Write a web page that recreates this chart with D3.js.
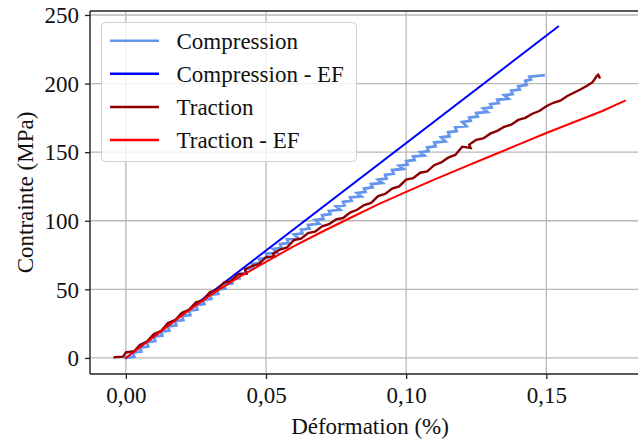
<!DOCTYPE html>
<html><head><meta charset="utf-8">
<script src="https://cdn.jsdelivr.net/npm/d3@7"></script>
<style>html,body{margin:0;padding:0;background:#fff;overflow:hidden}</style>
</head><body>
<svg id="chart" width="638" height="439"></svg>
<script>
const xTicks = [0, 0.05, 0.10, 0.15];
const yTicks = [0, 50, 100, 150, 200, 250];
const seriesNames = ["Compression", "Compression - EF", "Traction", "Traction - EF"];
const seriesColors = ["#6495ED", "#0000FF", "#8B0000", "#FF0000"];

// Compression (experimental)
const compression = [
 [0,0],[0.003,0.8],[0.0025,3.8],[0.0055,4.6],[0.005,7.5],[0.008,8.3],[0.0075,11.5],[0.0105,12.3],
 [0.01,15.5],[0.013,16.3],[0.0125,19.2],[0.0155,20],[0.015,23],[0.018,23.8],[0.0175,26.8],[0.0205,27.6],
 [0.02,30.5],[0.023,31.3],[0.0225,34.5],[0.0255,35.3],[0.025,38.5],[0.028,39.3],[0.0275,42.2],[0.0305,43],
 [0.03,46],[0.033,46.8],[0.0325,49.8],[0.0355,50.6],[0.035,53.5],[0.038,54.3],[0.0375,57.2],[0.0405,58],
 [0.04,61],[0.043,61.8],[0.0425,64.8],[0.0455,65.6],[0.045,68.5],[0.048,69.3],[0.0475,72.2],[0.0505,73],
 [0.05,76],[0.054,76.8],[0.0525,79.5],[0.0555,80.3],[0.055,83],[0.058,83.8],[0.0575,86.5],[0.0615,87.3],
 [0.06,90],[0.063,90.8],[0.0625,93.5],[0.0655,94.3],[0.065,97],[0.069,97.8],[0.0675,100.5],[0.0705,101.3],
 [0.07,104],[0.073,104.8],[0.0725,107.2],[0.0765,108],[0.075,110.5],[0.078,111.3],[0.0775,113.8],[0.0805,114.6],
 [0.08,117],[0.084,117.8],[0.0825,120.2],[0.0855,121],[0.085,123.5],[0.088,124.3],[0.0875,126.8],[0.0915,127.6],
 [0.09,130],[0.093,130.8],[0.0925,133.5],[0.0955,134.3],[0.095,137],[0.099,137.8],[0.0975,140.2],[0.1005,141],
 [0.1,143.5],[0.103,144.3],[0.1025,146.8],[0.1065,147.6],[0.105,150],[0.108,150.8],[0.1075,153.5],[0.1105,154.3],
 [0.11,157],[0.114,157.8],[0.1125,160.8],[0.1155,161.6],[0.115,164.5],[0.118,165.3],[0.1175,168.2],[0.1215,169],
 [0.12,172],[0.123,172.8],[0.1225,175.2],[0.1255,176],[0.125,178.5],[0.129,179.3],[0.1275,181.8],[0.1305,182.6],
 [0.13,185],[0.133,185.8],[0.1325,188.2],[0.1365,189],[0.135,191.5],[0.138,192.3],[0.1375,194.8],[0.1405,195.6],
 [0.14,198],[0.143,199],[0.1425,202],[0.1445,203],[0.144,205],[0.147,205.6],[0.149,206]
];
// Compression - EF
const compressionEF = [[0,0],[0.1542,241.5]];
// Traction (experimental)
const traction = [
 [-0.004,0.5],[-0.001,1],[0.000,4],[0.003,5],[0.005,9.5],[0.0075,12],[0.010,17.5],[0.0125,19.5],
 [0.015,25.5],[0.0175,27.5],[0.020,33],[0.0225,35],[0.025,40.5],[0.0275,42],[0.030,48],[0.0325,49.5],
 [0.035,55],[0.0375,56],[0.040,61],[0.043,61.5],[0.0425,64.5],[0.045,67],[0.0475,68.5],[0.050,73.5],
 [0.053,74],[0.0525,76],[0.055,79],[0.0575,80.5],[0.060,86],[0.0625,87],[0.065,91],[0.0675,92],
 [0.070,96],[0.0725,97.5],[0.075,101],[0.0775,102],[0.080,106],[0.0825,108],[0.085,111.5],
 [0.0875,113],[0.090,118],[0.0925,119.5],[0.095,123.5],[0.0975,125],[0.100,130],[0.1025,131],
 [0.105,135],[0.1075,136],[0.110,140.5],[0.1125,142.5],[0.115,146],[0.1175,148],[0.120,154],
 [0.123,153],[0.1225,155.5],[0.125,159],[0.1275,160],[0.130,163.5],[0.1325,165.5],[0.135,168.5],
 [0.1375,170],[0.140,173.5],[0.1425,175],[0.145,178],[0.1475,180],[0.150,183.5],[0.1525,186],
 [0.155,187.5],[0.1575,191],[0.160,193.5],[0.1625,196],[0.165,199],[0.1665,201],[0.168,205.5],
 [0.1685,206.5],[0.169,204.5]
];
// Traction - EF
const tractionEF = [
 [0,0],[0.01,15.5],[0.02,31],[0.03,45.5],[0.04,58.5],[0.05,70],[0.06,81.5],[0.07,92],
 [0.08,102],[0.09,112],[0.10,121],[0.11,130],[0.12,138.5],[0.13,147],[0.14,155.5],
 [0.15,164],[0.16,172],[0.17,180],[0.178,187.5]
];

(function () {
const svg = d3.select("#chart");
const pL = 90, pR = 650, pT = 11, pB = 374;
const x = d3.scaleLinear().domain([-0.0128, 0.1870]).range([pL, pR]);
const y = d3.scaleLinear().domain([-11.7, 252.9]).range([pB, pT]);
const FONT = "'Liberation Serif', 'Times New Roman', serif";

// grid
const g = svg.append("g");
g.selectAll("line.gx").data(xTicks).enter().append("line")
  .attr("x1", d => x(d)).attr("x2", d => x(d)).attr("y1", pT).attr("y2", pB)
  .attr("stroke", "#b8b8b8").attr("stroke-width", 1.3);
g.selectAll("line.gy").data(yTicks).enter().append("line")
  .attr("x1", pL).attr("x2", pR).attr("y1", d => y(d)).attr("y2", d => y(d))
  .attr("stroke", "#b8b8b8").attr("stroke-width", 1.3);

// clip
svg.append("clipPath").attr("id", "clip").append("rect")
  .attr("x", pL).attr("y", pT).attr("width", pR - pL).attr("height", pB - pT);

const line = d3.line().x(d => x(d[0])).y(d => y(d[1]));
const data = [compression, compressionEF, traction, tractionEF];
const widths = [2.8, 2, 2.4, 2];
const plot = svg.append("g").attr("clip-path", "url(#clip)");
data.forEach((s, i) => {
  plot.append("path").datum(s).attr("d", line).attr("fill", "none")
    .attr("stroke", seriesColors[i]).attr("stroke-width", widths[i])
    .attr("stroke-linejoin", "miter").attr("stroke-miterlimit", 3).attr("stroke-linecap", "square");
});

// axes
const xAxis = d3.axisBottom(x).tickValues(xTicks).tickSize(5).tickPadding(8)
  .tickFormat(d => d3.format(".2f")(d).replace(".", ","));
const yAxis = d3.axisLeft(y).tickValues(yTicks).tickSize(5).tickPadding(6)
  .tickFormat(d3.format("d"));
const gx = svg.append("g").attr("transform", `translate(0,${pB})`).call(xAxis);
const gy = svg.append("g").attr("transform", `translate(${pL},0)`).call(yAxis);
[gx, gy].forEach(a => {
  a.select(".domain").remove();
  a.selectAll(".tick line").attr("stroke", "#222").attr("stroke-width", 1.3);
  a.selectAll(".tick text").attr("font-family", FONT).attr("font-size", "23px").attr("fill", "#111");
});
gy.selectAll(".tick text").attr("dy", "0.34em");

// spines
const sp = [[pL, pT, pL, pB], [pL, pB, pR, pB], [pL, pT, pR, pT], [pR, pT, pR, pB]];
sp.forEach(s => svg.append("line").attr("x1", s[0]).attr("y1", s[1]).attr("x2", s[2]).attr("y2", s[3])
  .attr("stroke", "#222").attr("stroke-width", 1.4));

// axis labels
svg.append("text").attr("x", 370).attr("y", 434).attr("text-anchor", "middle")
  .attr("font-family", FONT).attr("font-size", "23px").attr("fill", "#111")
  .text("Déformation (%)");
svg.append("text").attr("transform", `translate(33,${(pT + pB) / 2}) rotate(-90)`)
  .attr("text-anchor", "middle").attr("font-family", FONT).attr("font-size", "23px").attr("fill", "#111")
  .text("Contrainte (MPa)");

// legend
const lg = svg.append("g");
lg.append("rect").attr("x", 101.5).attr("y", 22.5).attr("width", 255).attr("height", 139)
  .attr("rx", 4).attr("fill", "#fff").attr("fill-opacity", 0.8)
  .attr("stroke", "#d0d0d0").attr("stroke-width", 1);
seriesNames.forEach((n, i) => {
  const yy = 40.7 + i * 33.1;
  lg.append("line").attr("x1", 110).attr("x2", 159).attr("y1", yy).attr("y2", yy)
    .attr("stroke", seriesColors[i]).attr("stroke-width", 2.5);
  lg.append("text").attr("x", 176.5).attr("y", yy + 8.3)
    .attr("font-family", FONT).attr("font-size", "23px").attr("fill", "#111").text(n);
});
})();
</script>
</body></html>
